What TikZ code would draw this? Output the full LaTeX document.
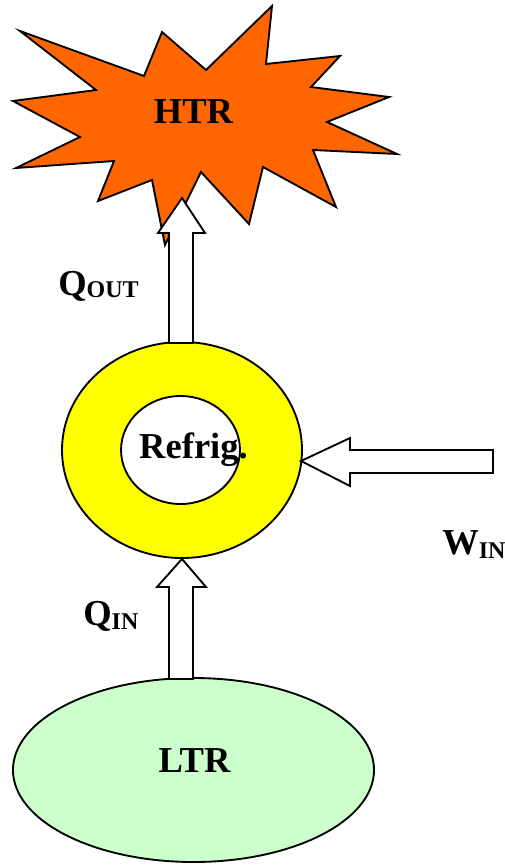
\documentclass[tikz,border=0pt]{standalone}
\usepackage{fontspec}
\setmainfont{Liberation Serif}
\usetikzlibrary{shapes.geometric}
\definecolor{htrorange}{HTML}{FF6600}
\definecolor{ringyellow}{HTML}{FFFF00}
\definecolor{ltrgreen}{HTML}{CCFFCC}
\newcommand{\bigtxt}{\fontsize{27.4}{30}\selectfont\bfseries}
\newcommand{\subtxt}{\fontsize{18}{20}\selectfont\bfseries}
\begin{document}
\begin{tikzpicture}[x=0.75pt,y=-0.75pt,line join=miter,
  outl/.style={draw=black,line width=1.4pt},
  lbl/.style={inner sep=0pt,font=\bigtxt},
  blockarrow/.style={outl,fill=white},
  oval/.style={outl,ellipse,inner sep=0pt}]
\useasboundingbox (0,0) rectangle (504,868);
% HTR star
\path[outl,fill=htrorange] (20,31) -- (144,76) -- (162,32) -- (206,70) -- (272,6) -- (266,64)
 -- (340,56) -- (311,87) -- (389,97) -- (327,122) -- (397,154) -- (313,150) -- (336,207)
 -- (263,167) -- (249,224) -- (201,172) -- (165,245) -- (152,180) -- (98,201) -- (114,161)
 -- (16,168) -- (80,137) -- (13,101) -- (96,90) -- cycle;
\node[lbl,anchor=base] (htr) at (193.5,123) {HTR};
% Refrigerator ring
\node[oval,fill=ringyellow,minimum width=180pt,minimum height=162pt] (ring) at (182,450) {};
\node[oval,fill=white,minimum width=89.2pt,minimum height=81pt] (core) at (180.5,450) {};
\node[lbl,anchor=base] (refrig) at (193.5,458) {Refrig.};
% LTR
\node[oval,fill=ltrgreen,minimum width=270.8pt,minimum height=138pt] (ltr) at (193.5,770) {};
\node[lbl,anchor=base] (ltrtxt) at (194.5,772) {LTR};
% Q_OUT arrow (ring -> HTR)
\coordinate (qoutTip) at (182,198);
\path[blockarrow] (qoutTip) -- (205,233) -- (193,233) -- (193,343) -- (169,343) -- (169,233) -- (158,233) -- cycle;
% Q_IN arrow (LTR -> ring)
\coordinate (qinTip) at (ring.south);
\path[blockarrow] (qinTip) -- (206,587) -- (193,587) -- (193,679) -- (169,679) -- (169,587) -- (157,587) -- cycle;
% W_IN arrow (-> ring)
\coordinate (winTip) at (301,461);
\path[blockarrow] (winTip) -- (350,438) -- (350,450) -- (493,450) -- (493,473) -- (350,473) -- (350,486) -- cycle;
% labels
\node[lbl,anchor=base west] (qout) at (58,295) {Q\raisebox{-2pt}{\subtxt OUT}};
\node[lbl,anchor=base west] (qin) at (83,625) {Q\raisebox{-3pt}{\subtxt IN}};
\node[lbl,anchor=base west] (win) at (442,554) {W\raisebox{-3pt}{\subtxt IN}};
\end{tikzpicture}
\end{document}
